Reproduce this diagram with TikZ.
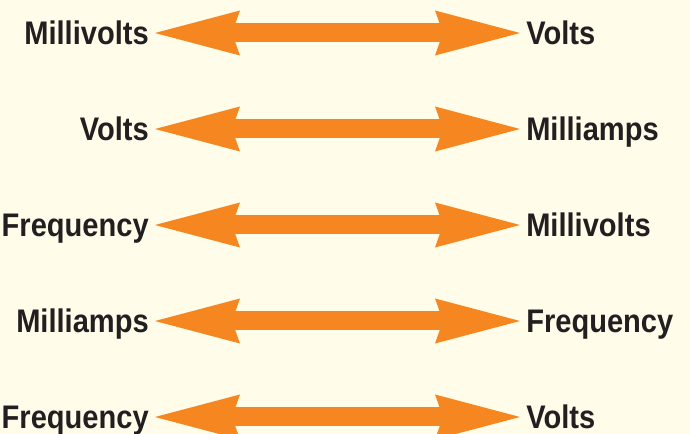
\documentclass[tikz,border=0pt]{standalone}
\usepackage{fontspec}
\setmainfont[FakeStretch=0.89]{Liberation Sans}
\usetikzlibrary{arrows.meta}

\definecolor{cream}{HTML}{FFFCEA}
\definecolor{arroworange}{HTML}{F58620}
\definecolor{textdark}{HTML}{231F20}

\begin{document}
\begin{tikzpicture}[x=0.75pt,y=-0.75pt,
    lbl/.style={font=\bfseries\fontsize{24.5pt}{24.5pt}\selectfont, text=textdark,
      inner xsep=4.5pt, inner ysep=0pt, text height=17.8pt, text depth=0pt},
    lbll/.style={lbl, anchor=east},
    lblr/.style={lbl, anchor=west},
    dbl/.style={arroworange, line width=14.25pt,
      {Stealth[length=63.75pt, width=33.75pt, inset=6pt, line width=0pt]}-{Stealth[length=63.75pt, width=33.75pt, inset=6pt, line width=0pt]}}]
  \fill[cream] (0,0) rectangle (690,434);
  \useasboundingbox (0,0) rectangle (690,434);
  % left column
  \node[lbll] (l1) at (155,33) {Millivolts};
  \node[lbll] (l2) at (155,129) {Volts};
  \node[lbll] (l3) at (155,225) {Frequency};
  \node[lbll] (l4) at (155,321) {Milliamps};
  \node[lbll] (l5) at (155,417) {Frequency};
  % right column
  \node[lblr] (r1) at (520,33) {Volts};
  \node[lblr] (r2) at (520,129) {Milliamps};
  \node[lblr] (r3) at (520,225) {Millivolts};
  \node[lblr] (r4) at (520,321) {Frequency};
  \node[lblr] (r5) at (520,417) {Volts};
  % arrows
  \draw[dbl] (l1) -- (r1);
  \draw[dbl] (l2) -- (r2);
  \draw[dbl] (l3) -- (r3);
  \draw[dbl] (l4) -- (r4);
  \draw[dbl] (l5) -- (r5);
\end{tikzpicture}
\end{document}
